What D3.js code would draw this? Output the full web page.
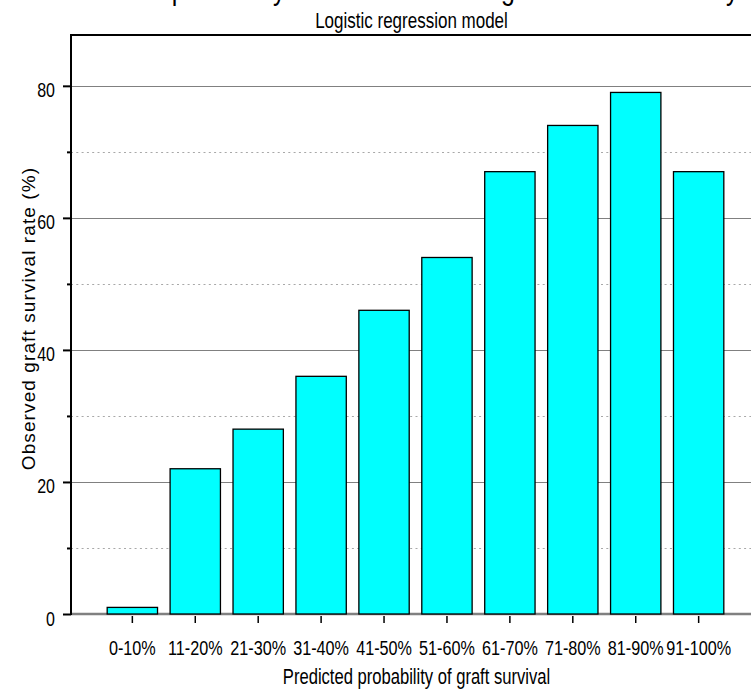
<!DOCTYPE html>
<html>
<head>
<meta charset="utf-8">
<script src="https://cdn.jsdelivr.net/npm/d3@7/dist/d3.min.js"></script>
<style>
  html, body { margin: 0; padding: 0; background: #fff; }
  svg { display: block; }
  text { font-family: "Liberation Sans", Arial, sans-serif; fill: #000; }
</style>
</head>
<body>
<svg id="chart" width="751" height="689"></svg>
<script>
// ---- data ----
const categories = ["0-10%", "11-20%", "21-30%", "31-40%", "41-50%", "51-60%", "61-70%", "71-80%", "81-90%", "91-100%"];
const survivalRate = [1, 22, 28, 36, 46, 54, 67, 74, 79, 67];
const majorTicks = [0, 20, 40, 60, 80];
const minorTicks = [10, 30, 50, 70];
const titleText = "Observed probability of death-censored graft survival at one year";
const subtitleText = "Logistic regression model";
const xTitle = "Predicted probability of graft survival";
const yTitle = "Observed graft survival rate (%)";

// ---- layout ----
const plot = { left: 71, right: 760, top: 35, bottom: 614 };
const SY = 1.28; // vertical stretch of the lettering

const svg = d3.select("#chart");

const x = d3.scaleBand()
  .domain(categories)
  .range([plot.left, plot.right])
  .paddingInner(0.2)
  .paddingOuter(0.575);

const y = d3.scaleLinear()
  .domain([0, 87.7])
  .range([plot.bottom, plot.top]);

// gridlines
svg.append("g").selectAll("line")
  .data(minorTicks).join("line")
  .attr("x1", plot.left).attr("x2", plot.right)
  .attr("y1", d => Math.round(y(d)) + 0.5).attr("y2", d => Math.round(y(d)) + 0.5)
  .attr("stroke", "#a8a8a8").attr("stroke-width", 1)
  .attr("stroke-dasharray", "2,3.3");

svg.append("g").selectAll("line")
  .data(majorTicks.filter(d => d > 0)).join("line")
  .attr("x1", plot.left).attr("x2", plot.right)
  .attr("y1", d => Math.round(y(d)) + 0.5).attr("y2", d => Math.round(y(d)) + 0.5)
  .attr("stroke", "#808080").attr("stroke-width", 1.2);

// zero line
svg.append("line")
  .attr("x1", plot.left).attr("x2", plot.right)
  .attr("y1", y(0)).attr("y2", y(0))
  .attr("stroke", "#808080").attr("stroke-width", 2.5);

// bars
svg.append("g").selectAll("rect")
  .data(categories.map((c, i) => ({ c, v: survivalRate[i] })))
  .join("rect")
  .attr("x", d => x(d.c))
  .attr("width", x.bandwidth())
  .attr("y", d => y(d.v))
  .attr("height", d => y(0) - y(d.v))
  .attr("fill", "#00ffff")
  .attr("stroke", "#000")
  .attr("stroke-width", 1.3);

// frame: left and top
svg.append("line")
  .attr("x1", plot.left).attr("x2", plot.left)
  .attr("y1", plot.top).attr("y2", plot.bottom + 1)
  .attr("stroke", "#000").attr("stroke-width", 2);
svg.append("line")
  .attr("x1", plot.left - 1).attr("x2", plot.right)
  .attr("y1", plot.top).attr("y2", plot.top)
  .attr("stroke", "#000").attr("stroke-width", 2);

// y axis (major)
const yAxis = d3.axisLeft(y).tickValues(majorTicks).tickSize(8).tickFormat(d3.format("d"));
const gy = svg.append("g").attr("transform", `translate(${plot.left},0)`).call(yAxis);
gy.select(".domain").remove();
gy.selectAll(".tick line").attr("stroke", "#000").attr("stroke-width", 2);
gy.selectAll(".tick text")
  .attr("font-size", 16).attr("font-family", "'Liberation Sans', Arial, sans-serif")
  .attr("fill", "#000")
  .attr("x", 0).attr("y", 0).attr("dy", null)
  .attr("transform", `translate(-16,11) scale(1,${SY})`);

// y axis (minor)
const yAxisMinor = d3.axisLeft(y).tickValues(minorTicks).tickSize(4).tickFormat("");
const gym = svg.append("g").attr("transform", `translate(${plot.left},0)`).call(yAxisMinor);
gym.select(".domain").remove();
gym.selectAll(".tick line").attr("stroke", "#000").attr("stroke-width", 2);

// x axis
const xAxis = d3.axisBottom(x).tickSize(7);
const gx = svg.append("g").attr("transform", `translate(0,${plot.bottom + 2})`).call(xAxis);
gx.select(".domain").remove();
gx.selectAll(".tick line").attr("stroke", "#000").attr("stroke-width", 1.5);
gx.selectAll(".tick text")
  .attr("font-size", 16.2).attr("font-family", "'Liberation Sans', Arial, sans-serif")
  .attr("fill", "#000")
  .attr("y", 0).attr("dy", null)
  .attr("transform", `translate(0,${655 - plot.bottom - 2}) scale(1,${SY})`);

const cx = (plot.left + plot.right) / 2;

function stretchedText(px, py, size, str, anchorShift) {
  svg.append("text")
    .attr("transform", `translate(${px},${py}) scale(1,${SY})`)
    .attr("text-anchor", "middle")
    .attr("font-size", size)
    .text(str);
}

// titles
stretchedText(cx, -1, 25, titleText);
stretchedText(cx - 4, 28, 17, subtitleText);
stretchedText(cx + 1, 684, 16.6, xTitle);

svg.append("text")
  .attr("transform", `translate(35,${(plot.top + plot.bottom) / 2 - 6}) rotate(-90)`)
  .attr("text-anchor", "middle")
  .attr("font-size", 19)
  .attr("letter-spacing", 1.1)
  .text(yTitle);
</script>
</body>
</html>
